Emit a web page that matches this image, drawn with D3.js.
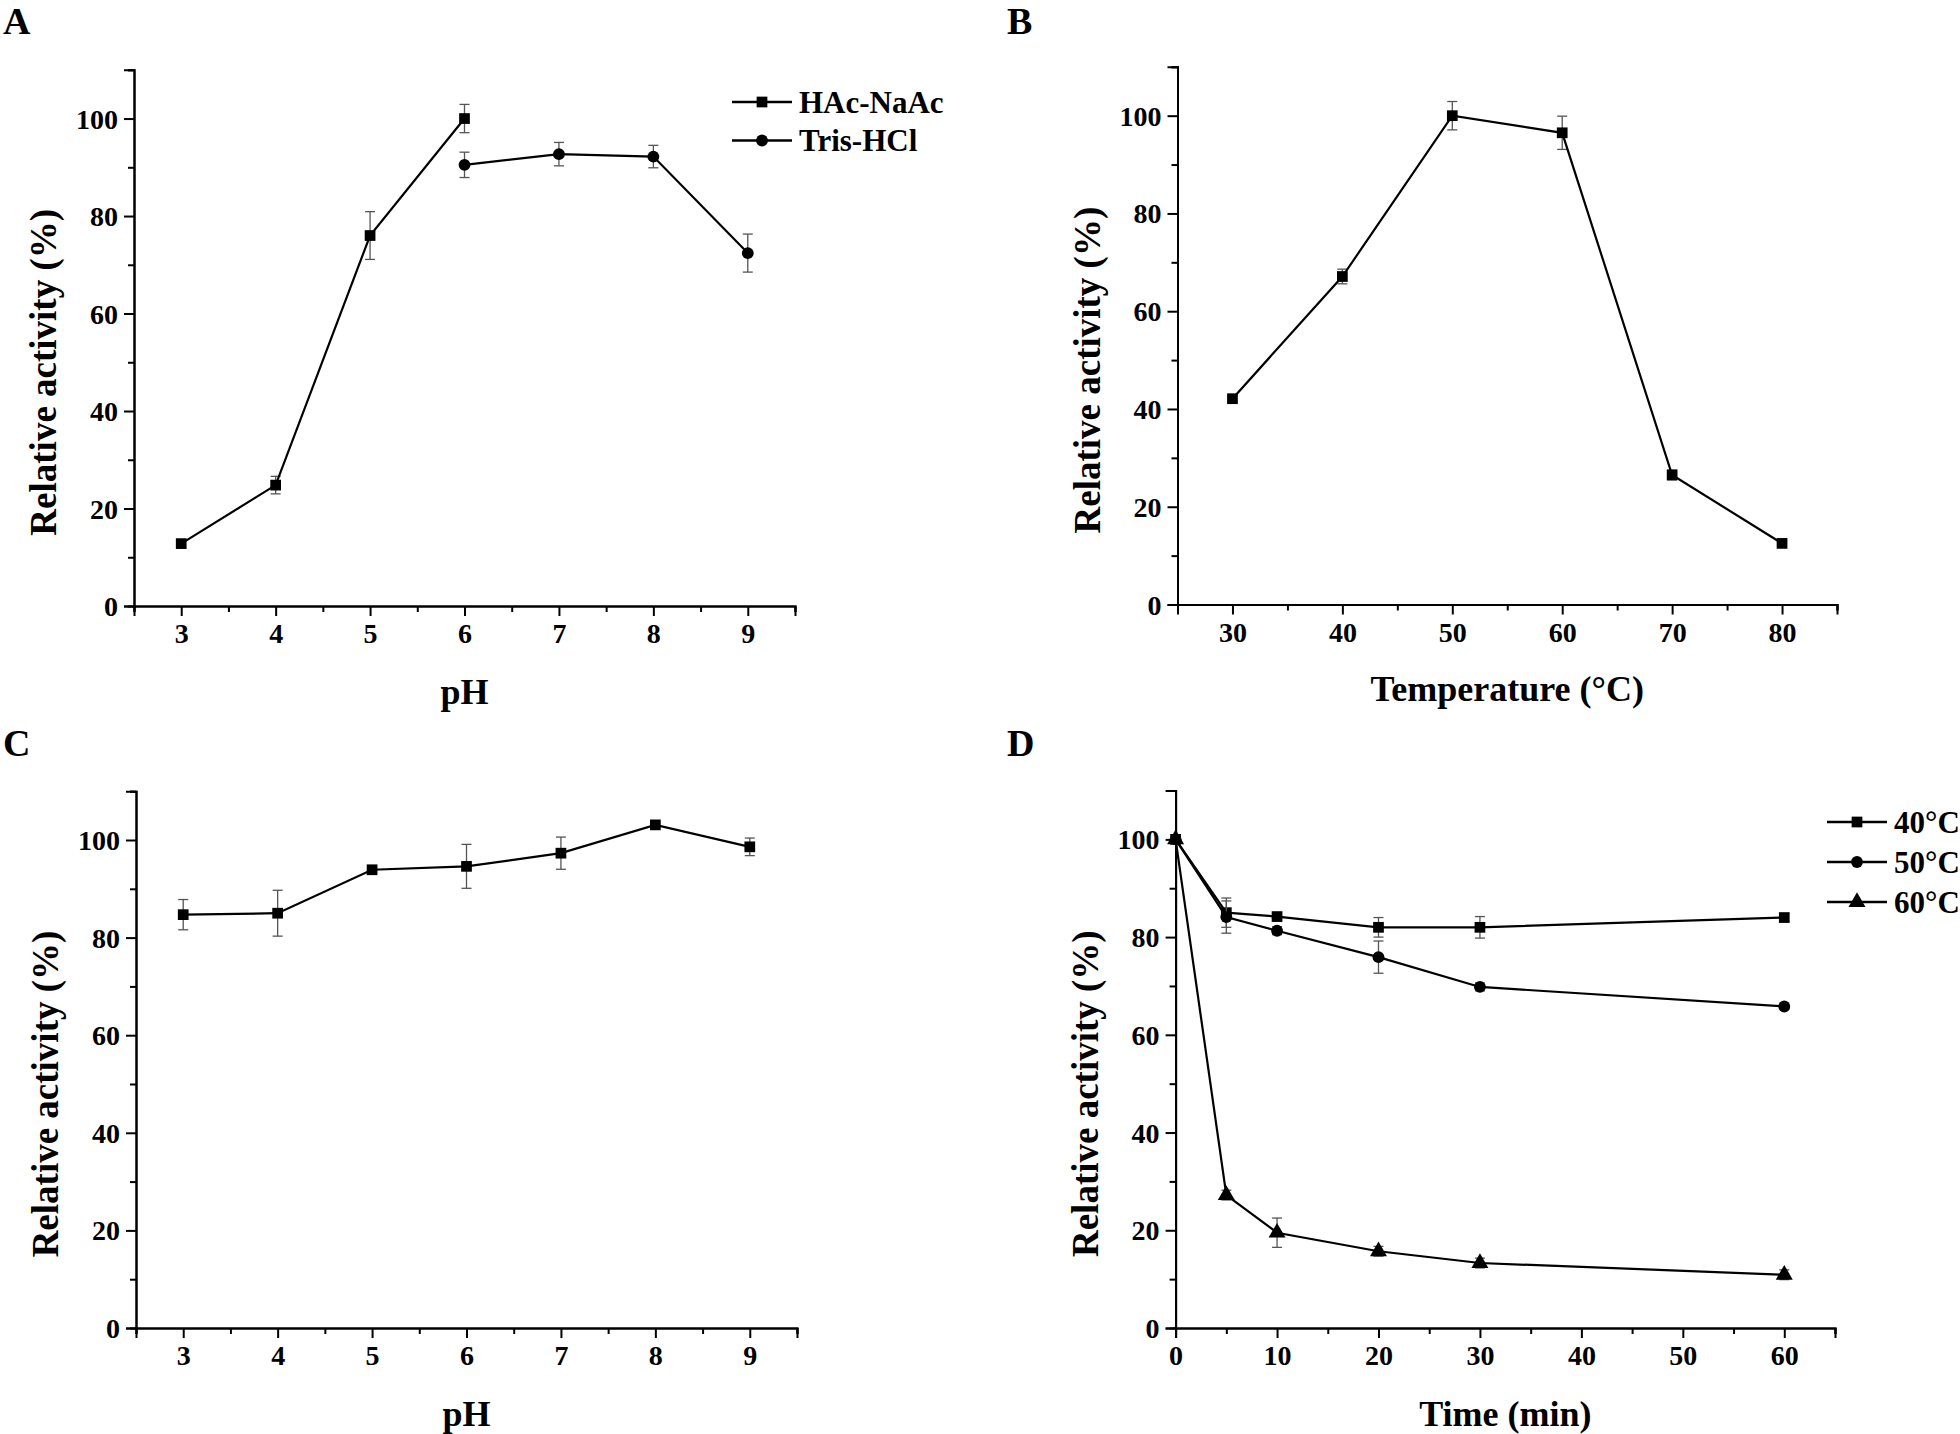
<!DOCTYPE html>
<html><head><meta charset="utf-8">
<script src="https://cdn.jsdelivr.net/npm/d3@7"></script>
<style>
body{margin:0;background:#fff}
svg{display:block}
text{font-family:"Liberation Serif","Times New Roman",serif;font-weight:bold;fill:#000}
</style>
</head><body>
<svg id="chart" width="1960" height="1434"></svg>
<script>
// ---------- data ----------
// Panel A: pH optimum
const hacX = [3, 4, 5, 6];
const hacY = [12.8, 24.8, 76.0, 100];
const hacErr = [0.8, 1.8, 4.9, 2.9];
const trisX = [6, 7, 8, 9];
const trisY = [90.5, 92.7, 92.2, 72.4];
const trisErr = [2.6, 2.4, 2.3, 3.9];
// Panel B: temperature optimum
const tempX = [30, 40, 50, 60, 70, 80];
const tempY = [42.1, 67.1, 100, 96.5, 26.5, 12.5];
const tempErr = [0.5, 1.5, 2.9, 3.4, 1.0, 0.6];
// Panel C: pH stability
const phX = [3, 4, 5, 6, 7, 8, 9];
const phStabY = [84.7, 85.0, 93.9, 94.6, 97.3, 103.1, 98.6];
const phStabErr = [3.1, 4.7, 0.5, 4.5, 3.3, 0.5, 1.8];
// Panel D: thermostability
const timeX = [0, 5, 10, 20, 30, 60];
const t40Y = [100, 85.0, 84.2, 82.0, 82.0, 84.0];
const t40Err = [0.3, 3.0, 0.8, 2.0, 2.2, 0.8];
const t50Y = [100, 84.1, 81.3, 75.9, 69.8, 65.8];
const t50Err = [0.3, 3.3, 0.8, 3.3, 0.8, 0.6];
const t60Y = [100, 27.2, 19.5, 15.7, 13.3, 10.9];
const t60Err = [0.3, 1.0, 3.0, 1.0, 1.0, 1.0];

// tick labels
const yMajor = [0, 20, 40, 60, 80, 100];
const yMinor = [10, 30, 50, 70, 90, 110];
const phMajor = [3, 4, 5, 6, 7, 8, 9];
const phMinor = [2.5, 3.5, 4.5, 5.5, 6.5, 7.5, 8.5, 9.5];
const tempMajor = [30, 40, 50, 60, 70, 80];
const tempMinor = [25, 35, 45, 55, 65, 75, 85];
const timeMajor = [0, 10, 20, 30, 40, 50, 60];
const timeMinor = [5, 15, 25, 35, 45, 55, 65];

const svg = d3.select("#chart");

function zip(xs, ys, es) { return xs.map((x, i) => ({x, y: ys[i], e: es[i]})); }

function drawPanel(cfg) {
  const x = d3.scaleLinear().domain(cfg.xDomain).range(cfg.xRange);
  const y = d3.scaleLinear().domain([0, 110]).range(cfg.yRange);
  const g = svg.append("g");

  // axes
  const yAxis = d3.axisLeft(y).tickValues(yMajor).tickSize(10).tickPadding(6).tickFormat(d3.format("d"));
  const yAxisMinor = d3.axisLeft(y).tickValues(yMinor).tickSize(6).tickFormat("");
  const xAxis = d3.axisBottom(x).tickValues(cfg.xMajor).tickSize(10).tickPadding(7).tickFormat(d3.format("d"));
  const xAxisMinor = d3.axisBottom(x).tickValues(cfg.xMinor).tickSize(6).tickFormat("");

  const ya = g.append("g").attr("transform", `translate(${cfg.xRange[0]},0)`).call(yAxis);
  g.append("g").attr("transform", `translate(${cfg.xRange[0]},0)`).call(yAxisMinor);
  const xa = g.append("g").attr("transform", `translate(0,${cfg.yRange[0]})`).call(xAxis);
  g.append("g").attr("transform", `translate(0,${cfg.yRange[0]})`).call(xAxisMinor);
  g.selectAll(".domain").attr("stroke", "#000").attr("stroke-width", 2);
  g.selectAll(".tick line").attr("stroke", "#000").attr("stroke-width", 2);
  g.selectAll(".tick text").style("font-size", "28px").attr("fill", "#000");
  ya.selectAll(".tick text").attr("dy", "0.34em");
  xa.selectAll(".tick text").attr("dy", "0.72em");

  // axis titles
  g.append("text")
    .attr("x", (cfg.xRange[0] + cfg.xRange[1]) / 2)
    .attr("y", cfg.xTitleY)
    .attr("text-anchor", "middle")
    .style("font-size", "36px")
    .text(cfg.xTitle);
  const ycx = cfg.xRange[0] - 78;
  const ycy = (cfg.yRange[0] + y(100)) / 2 + 10;
  g.append("text")
    .attr("transform", `translate(${ycx},${ycy}) rotate(-90)`)
    .attr("text-anchor", "middle")
    .style("font-size", "37px")
    .text("Relative activity (%)");

  // panel letter
  g.append("text").attr("x", cfg.letterX).attr("y", cfg.letterY)
    .style("font-size", "38px").text(cfg.letter);

  const line = d3.line().x(d => x(d.x)).y(d => y(d.y));

  cfg.series.forEach(s => {
    const data = s.data;
    // error bars
    const eb = g.append("g").attr("stroke", "#555").attr("stroke-width", 1.3).attr("fill", "none");
    data.forEach(d => {
      eb.append("line").attr("x1", x(d.x)).attr("x2", x(d.x)).attr("y1", y(d.y - d.e)).attr("y2", y(d.y + d.e));
      eb.append("line").attr("x1", x(d.x) - 5).attr("x2", x(d.x) + 5).attr("y1", y(d.y - d.e)).attr("y2", y(d.y - d.e));
      eb.append("line").attr("x1", x(d.x) - 5).attr("x2", x(d.x) + 5).attr("y1", y(d.y + d.e)).attr("y2", y(d.y + d.e));
    });
    g.append("path").datum(data).attr("d", line)
      .attr("fill", "none").attr("stroke", "#000").attr("stroke-width", 2.2);
    const sym = d3.symbol().type(s.symbol).size(s.size);
    g.selectAll(null).data(data).enter().append("path")
      .attr("d", sym)
      .attr("transform", d => `translate(${x(d.x)},${y(d.y)})`)
      .attr("fill", "#000");
  });

  // legend
  if (cfg.legend) {
    const L = cfg.legend;
    cfg.series.forEach((s, i) => {
      const ly = L.y + i * L.dy;
      g.append("line").attr("x1", L.x).attr("x2", L.x + 60).attr("y1", ly).attr("y2", ly)
        .attr("stroke", "#000").attr("stroke-width", 2.5);
      g.append("path").attr("d", d3.symbol().type(s.symbol).size(s.size)())
        .attr("transform", `translate(${L.x + 30},${ly})`).attr("fill", "#000");
      g.append("text").attr("x", L.x + 67).attr("y", ly).attr("dy", "0.35em")
        .style("font-size", "31px").text(s.name);
    });
  }
}

drawPanel({
  letter: "A", letterX: 3, letterY: 34,
  xDomain: [2.5, 9.5], xRange: [134, 795], yRange: [606, 69.8],
  xMajor: phMajor, xMinor: phMinor, xTitle: "pH", xTitleY: 704,
  series: [
    {name: "HAc-NaAc", data: zip(hacX, hacY, hacErr), symbol: d3.symbolSquare, size: 115},
    {name: "Tris-HCl", data: zip(trisX, trisY, trisErr), symbol: d3.symbolCircle, size: 110}
  ],
  legend: {x: 732, y: 102, dy: 38.5}
});

drawPanel({
  letter: "B", letterX: 1007, letterY: 34,
  xDomain: [25, 85], xRange: [1177.5, 1837], yRange: [604.5, 66.8],
  xMajor: tempMajor, xMinor: tempMinor, xTitle: "Temperature (\u00B0C)", xTitleY: 701,
  series: [
    {name: "T", data: zip(tempX, tempY, tempErr), symbol: d3.symbolSquare, size: 115}
  ]
});

drawPanel({
  letter: "C", letterX: 3, letterY: 756,
  xDomain: [2.5, 9.5], xRange: [136, 797], yRange: [1328, 791.2],
  xMajor: phMajor, xMinor: phMinor, xTitle: "pH", xTitleY: 1426,
  series: [
    {name: "S", data: zip(phX, phStabY, phStabErr), symbol: d3.symbolSquare, size: 115}
  ]
});

drawPanel({
  letter: "D", letterX: 1007, letterY: 756,
  xDomain: [0, 65], xRange: [1175.6, 1835], yRange: [1328, 790.5],
  xMajor: timeMajor, xMinor: timeMinor, xTitle: "Time (min)", xTitleY: 1426,
  series: [
    {name: "40\u00B0C", data: zip(timeX, t40Y, t40Err), symbol: d3.symbolSquare, size: 115},
    {name: "50\u00B0C", data: zip(timeX, t50Y, t50Err), symbol: d3.symbolCircle, size: 110},
    {name: "60\u00B0C", data: zip(timeX, t60Y, t60Err), symbol: d3.symbolTriangle, size: 125}
  ],
  legend: {x: 1827, y: 822, dy: 40}
});
</script>
</body></html>
